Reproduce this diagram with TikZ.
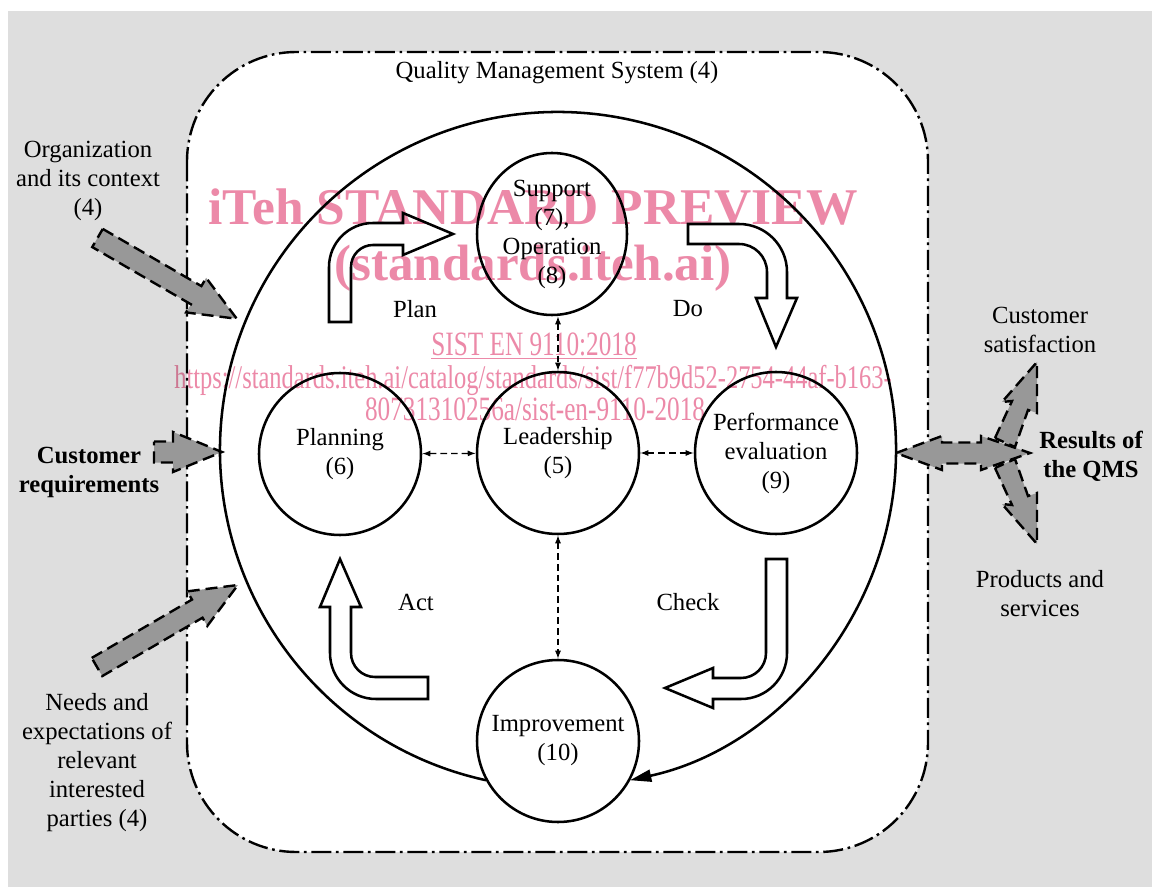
\documentclass[tikz,border=0pt]{standalone}
\usepackage{fontspec}
\setmainfont{Liberation Serif}
\usetikzlibrary{arrows.meta,shapes.geometric}
\definecolor{bggray}{RGB}{222,222,222}
\definecolor{arrgray}{RGB}{152,152,152}
\definecolor{wmpink}{RGB}{236,137,168}
\newcommand\lblfont{\fontsize{18.5pt}{21.75pt}\selectfont}

\begin{document}
\begin{tikzpicture}[x=0.75pt,y=0.75pt,
  proc/.style ={circle,draw,line width=1.9pt,fill=white,inner sep=0pt,
                minimum size=121.5pt,align=center,font=\lblfont},
  lbl/.style  ={align=center,font=\lblfont,inner sep=0pt},
  qms/.style  ={draw,fill=white,line width=1.8pt,rounded corners=82pt,
                dash pattern=on 15pt off 3.5pt on 2pt off 3.5pt},
  inarr/.style={draw,fill=arrgray,line width=1.8pt,dash pattern=on 9pt off 4.5pt},
  hollow/.style={draw,fill=white,line width=1.9pt,line join=miter},
  link/.style ={{Latex[length=6pt,width=4.5pt]}-{Latex[length=6pt,width=4.5pt]},
                line width=0.9pt,dash pattern=on 5pt off 3pt},
  cyc/.style  ={-{Triangle[length=16pt,width=9pt]},line width=1.9pt},
  wm/.style   ={text=wmpink,inner sep=0pt,blend mode=multiply,
                font=\fontsize{20pt}{24pt}\selectfont},
]
\useasboundingbox (0,0) rectangle (1152,-887);
\fill[bggray] (8,-11) rectangle (1152,-887);

% system boundary
\draw[qms] (187,-52) rectangle (928,-852);
\node[lbl] (qmst) at (557,-73) {Quality Management System (4)};

% inputs
\begin{scope}[shift={(97.5,-238)},rotate=-30.1]
  \draw[inarr] (0,10.5) -- (114,10.5) -- (114,20) -- (161,0) -- (114,-20) -- (114,-10.5) -- (0,-10.5) -- cycle;
\end{scope}
\draw[inarr] (154,-441.5) -- (173,-441.5) -- (173,-432) -- (222,-452) -- (173,-472) -- (173,-462.5) -- (154,-462.5) -- cycle;
\begin{scope}[shift={(97,-667)},rotate=30.2]
  \draw[inarr] (0,10.5) -- (116,10.5) -- (116,20) -- (163,0) -- (116,-20) -- (116,-10.5) -- (0,-10.5) -- cycle;
\end{scope}
\node[lbl] (org)  at (88,-181)  {Organization\\and its context\\(4)};
\node[lbl,font=\lblfont\bfseries] (creq) at (89,-472) {Customer\\requirements};
\node[lbl] (needs) at (97,-763) {Needs and\\expectations of\\relevant\\interested\\parties (4)};

% PDCA cycle
\draw[cyc] (558,-450) ++(257.7:338) arc[start angle=257.7,end angle=-77.7,radius=338];

\node[proc] (lead) at (558,-453) {Leadership\\(5)};
\node[proc] (plan) at (340,-454) {Planning\\(6)};
\node[proc] (perf) at (776,-453) {Performance\\evaluation\\(9)};
\node[proc] (impr) at (558,-741) {Improvement\\(10)};
\node[proc,ellipse,minimum width=112.5pt,minimum height=121.5pt] (supp) at (552,-234) {Support\\(7),\\Operation\\(8)};

\draw[link] (plan) -- (lead);
\draw[link] (lead) -- (perf);
\draw[link] (lead.north |- supp.south) -- (lead.north);
\draw[link] (lead) -- (impr);

% hollow arrows
\draw[hollow] (329,-322) -- (329,-267) arc[start angle=180,end angle=90,radius=44] -- (403,-223) -- (403,-213)
  -- (453,-234) -- (403,-255) -- (403,-245) -- (373,-245) arc[start angle=90,end angle=180,radius=22] -- (351,-322) -- cycle;
\draw[hollow] (688,-224) -- (739,-224) arc[start angle=90,end angle=0,radius=48] -- (787,-298) -- (797,-298)
  -- (776,-347) -- (756,-298) -- (767,-298) -- (767,-272) arc[start angle=0,end angle=90,radius=28] -- (688,-244) -- cycle;
\draw[hollow] (766,-559) -- (787,-559) -- (787,-653) arc[start angle=0,end angle=-90,radius=46] -- (713,-699) -- (713,-708)
  -- (665,-688) -- (713,-668) -- (713,-678) -- (741,-678) arc[start angle=-90,end angle=0,radius=25] -- cycle;
\draw[hollow] (428,-699) -- (376,-699) arc[start angle=270,end angle=180,radius=46] -- (330,-607) -- (320,-607)
  -- (340,-559) -- (361,-607) -- (351,-607) -- (351,-653) arc[start angle=180,end angle=270,radius=24] -- (428,-677) -- cycle;

\node[lbl] (tplan)  at (415,-309) {Plan};
\node[lbl] (tdo)    at (688,-309) {Do};
\node[lbl] (tact)   at (416,-602) {Act};
\node[lbl] (tcheck) at (688,-602) {Check};

% outputs
\draw[inarr] (995,-438) -- (1012,-401) -- (1002,-402) -- (1037,-362) -- (1037,-413) -- (1028,-410) -- (1015,-447) -- cycle;
\draw[inarr] (995,-468) -- (1012,-505) -- (1002,-504) -- (1037,-544) -- (1037,-493) -- (1028,-496) -- (1015,-459) -- cycle;
\draw[inarr] (896,-453) -- (942,-436) -- (942,-442.5) -- (981,-442.5) -- (981,-436) -- (1030,-453)
  -- (981,-470) -- (981,-463.5) -- (942,-463.5) -- (942,-470) -- cycle;
\node[lbl] (csat) at (1040,-330) {Customer\\satisfaction};
\node[lbl,font=\lblfont\bfseries] (res) at (1091,-456) {Results of\\the QMS};
\node[lbl] (prod) at (1040,-594) {Products and\\services};

% watermark
\node[wm] (wm1) at (533,-207) {\resizebox{487pt}{!}{\bfseries iTeh STANDARD PREVIEW}};
\node[wm] (wm2) at (533,-268) {\resizebox{298pt}{!}{\bfseries (standards.iteh.ai)}};
\node[wm] (wm3) at (534,-346) {\scalebox{1}[1.35]{\resizebox{154pt}{!}{\underline{SIST EN 9110:2018}}}};
\node[wm] (wm4) at (533,-380) {\scalebox{1}[1.35]{\resizebox{538pt}{!}{https://standards.iteh.ai/catalog/standards/sist/f77b9d52-2754-44af-b163-}}};
\node[wm] (wm5) at (535,-409) {\scalebox{1}[1.35]{\resizebox{255pt}{!}{80731310256a/sist-en-9110-2018}}};
\end{tikzpicture}
\end{document}
